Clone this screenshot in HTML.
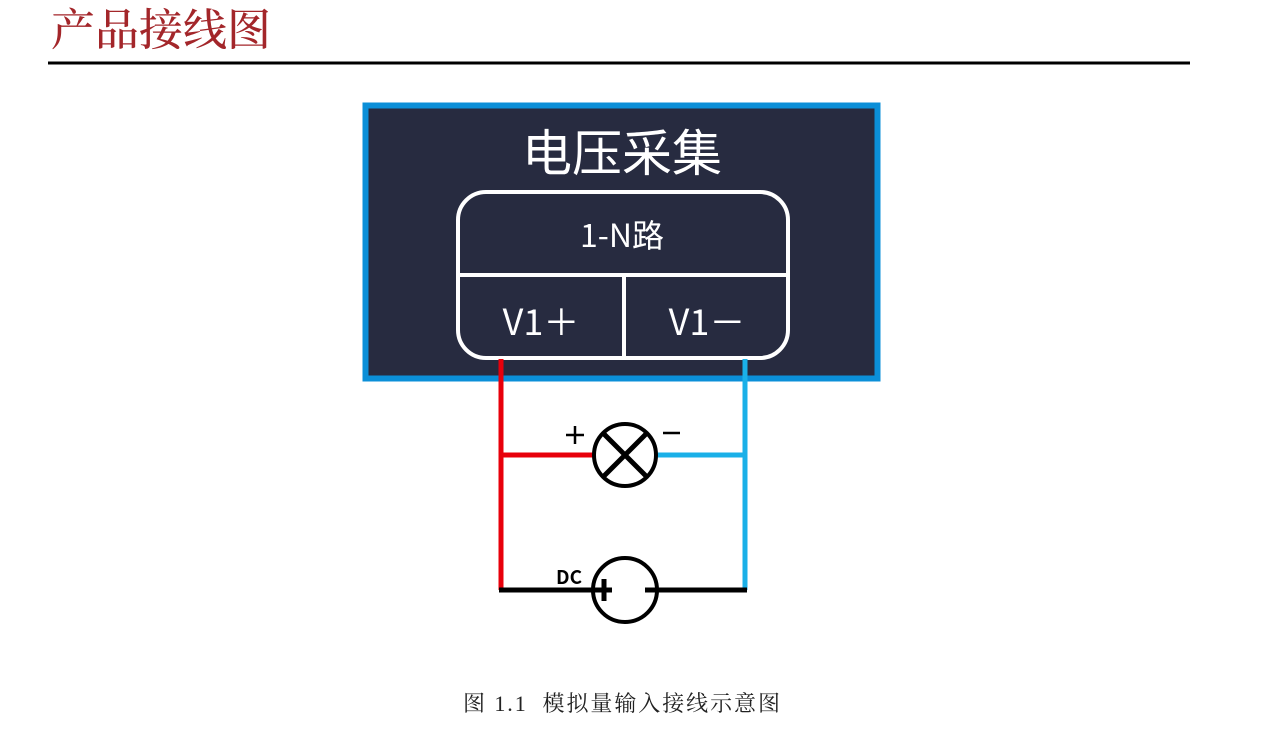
<!DOCTYPE html>
<html><head><meta charset="utf-8"><style>
html,body{margin:0;padding:0;background:#fff;width:1267px;height:753px;overflow:hidden}
svg{display:block}
</style></head><body>
<svg width="1267" height="753" viewBox="0 0 1267 753" xmlns="http://www.w3.org/2000/svg">
<text x="51" y="45" font-family="'Noto Serif CJK SC',serif" font-weight="500" font-size="44" fill="#a3262a">产品接线图</text>
<rect x="48" y="61.5" width="1142" height="3" fill="#000"/>
<rect x="365.5" y="105.5" width="512" height="273" fill="#272b40" stroke="#0b8fd8" stroke-width="6"/>
<text x="622" y="171" text-anchor="middle" font-family="'Noto Sans CJK SC',sans-serif" font-size="50" fill="#fff">电压采集</text>
<rect x="458" y="192" width="330" height="166" rx="28" ry="28" fill="none" stroke="#fff" stroke-width="4"/>
<line x1="458" y1="275" x2="788" y2="275" stroke="#fff" stroke-width="4"/>
<line x1="624" y1="275" x2="624" y2="358" stroke="#fff" stroke-width="4"/>
<text x="622" y="247" text-anchor="middle" font-family="'Noto Sans CJK SC',sans-serif" font-size="32" fill="#fff">1-N路</text>
<text x="541" y="335" text-anchor="middle" font-family="'Noto Sans CJK SC',sans-serif" font-size="36" fill="#fff">V1＋</text>
<text x="707" y="335" text-anchor="middle" font-family="'Noto Sans CJK SC',sans-serif" font-size="36" fill="#fff">V1－</text>
<line x1="501" y1="359" x2="501" y2="590" stroke="#e8000b" stroke-width="5"/>
<line x1="501" y1="455" x2="594" y2="455" stroke="#e8000b" stroke-width="5"/>
<line x1="745" y1="359" x2="745" y2="590" stroke="#1ab0e8" stroke-width="5"/>
<line x1="656" y1="455" x2="745" y2="455" stroke="#1ab0e8" stroke-width="5"/>
<circle cx="625" cy="455" r="31" fill="#fff" stroke="#000" stroke-width="4"/>
<line x1="603" y1="433" x2="647" y2="477" stroke="#000" stroke-width="5"/>
<line x1="647" y1="433" x2="603" y2="477" stroke="#000" stroke-width="5"/>
<line x1="566" y1="435" x2="584" y2="435" stroke="#000" stroke-width="2.5"/>
<line x1="575" y1="426" x2="575" y2="444" stroke="#000" stroke-width="2.5"/>
<line x1="663" y1="433" x2="680" y2="433" stroke="#000" stroke-width="2.5"/>
<line x1="499" y1="590" x2="747" y2="590" stroke="#000" stroke-width="5"/>
<circle cx="625" cy="590" r="32" fill="#fff" stroke="#000" stroke-width="4"/>
<line x1="593" y1="590" x2="612" y2="590" stroke="#000" stroke-width="5"/>
<line x1="604" y1="579" x2="604" y2="601" stroke="#000" stroke-width="5"/>
<line x1="645" y1="590" x2="657" y2="590" stroke="#000" stroke-width="5"/>
<text x="556" y="584" font-family="'Noto Sans CJK SC',sans-serif" font-weight="bold" font-size="19" fill="#000">DC</text>
<text x="463" y="711" xml:space="preserve" textLength="317" lengthAdjust="spacing" font-family="'Liberation Serif','Noto Serif CJK SC',serif" font-size="22" fill="#222">图 1.1  模拟量输入接线示意图</text>
</svg>
</body></html>
